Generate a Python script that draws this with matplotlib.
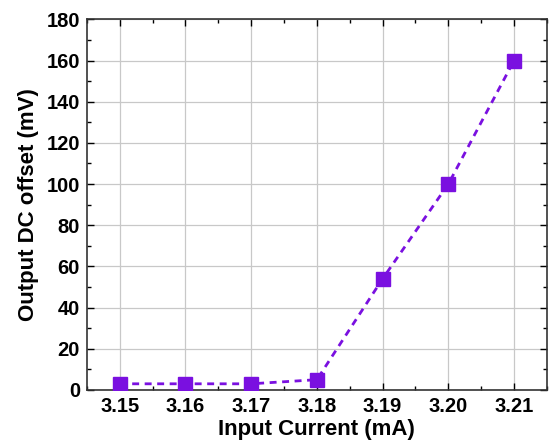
import matplotlib.pyplot as plt
from matplotlib.ticker import MultipleLocator

current = [3.15, 3.16, 3.17, 3.18, 3.19, 3.20, 3.21]
offset = [3, 3, 3, 5, 54, 100, 160]
xtick_labels = ["3.15", "3.16", "3.17", "3.18", "3.19", "3.20", "3.21"]

plt.rcParams["font.family"] = ["Liberation Sans", "DejaVu Sans"]
plt.rcParams["font.weight"] = "bold"

fig = plt.figure(figsize=(5.53, 4.46), dpi=100)
ax = fig.add_axes([0.157, 0.1256, 0.832, 0.831])

ax.plot(current, offset, linestyle="--", color="#7A10E0", linewidth=2.0,
        marker="s", markersize=10, markerfacecolor="#7A10E0",
        markeredgecolor="#7A10E0", zorder=3, dashes=(2.5, 2))

ax.set_xlim(3.145, 3.215)
ax.set_ylim(0, 180)
ax.set_xticks(current)
ax.set_xticklabels(xtick_labels)
ax.xaxis.set_minor_locator(MultipleLocator(0.005))
ax.yaxis.set_major_locator(MultipleLocator(20))
ax.yaxis.set_minor_locator(MultipleLocator(10))

ax.grid(True, which="major", color="#c8c8c8", linewidth=0.9)
ax.set_axisbelow(True)

ax.tick_params(which="both", direction="in", top=True, right=True,
               labelsize=14.5, width=1.0)
ax.tick_params(which="major", length=5, pad=5)
ax.tick_params(which="minor", length=3)
for lab in ax.get_xticklabels() + ax.get_yticklabels():
    lab.set_fontweight("bold")
for s in ax.spines.values():
    s.set_linewidth(1.2)
    s.set_color("#333333")

ax.set_xlabel("Input Current (mA)", fontsize=16, fontweight="bold", labelpad=2)
ax.set_ylabel("Output DC offset (mV)", fontsize=16, fontweight="bold", labelpad=5)

fig.savefig("out.png", dpi=100)
